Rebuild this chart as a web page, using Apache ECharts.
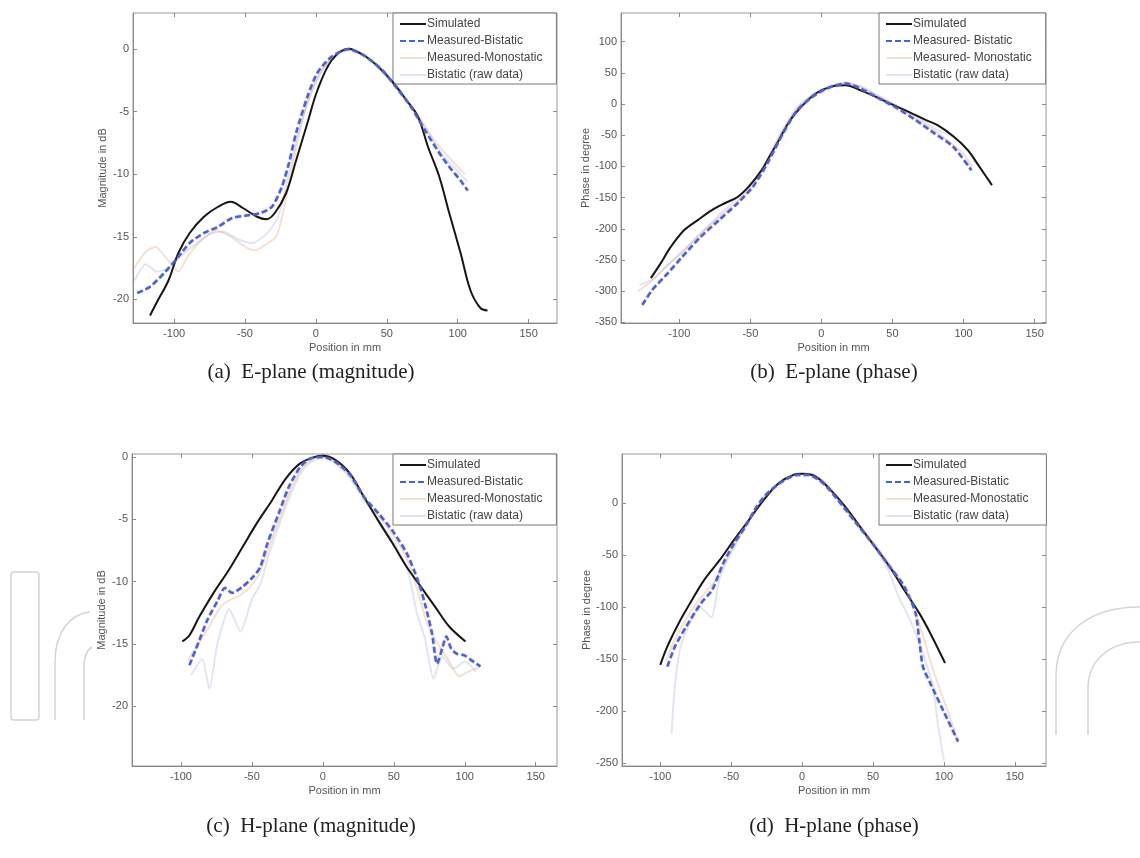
<!DOCTYPE html>
<html><head><meta charset="utf-8">
<script src="https://cdn.jsdelivr.net/npm/echarts@6/dist/echarts.min.js"></script>
<style>html,body{margin:0;padding:0;background:#fff}#c{width:1140px;height:858px}</style>
</head><body><div id="c"></div>
<script>
// ---------- tick labels ----------
var xTicks = [-100, -50, 0, 50, 100, 150];
var aYTicks = [-20, -15, -10, -5, 0];
var bYTicks = [-350, -300, -250, -200, -150, -100, -50, 0, 50, 100];
var cYTicks = [-20, -15, -10, -5, 0];
var dYTicks = [-250, -200, -150, -100, -50, 0];

// ---------- captions / names ----------
var captions = ['(a)  E-plane (magnitude)', '(b)  E-plane (phase)', '(c)  H-plane (magnitude)', '(d)  H-plane (phase)'];
var namesA = ['Simulated', 'Measured-Bistatic', 'Measured-Monostatic', 'Bistatic (raw data)'];
var namesB = ['Simulated', 'Measured- Bistatic', 'Measured- Monostatic', 'Bistatic (raw data)'];

// ---------- (a) E-plane magnitude [mm, dB] ----------
var aSimulated = [[-117,-21.3],[-112,-20.2],[-104,-18.5],[-97,-16.3],[-89,-14.7],[-79,-13.4],[-69,-12.6],[-60,-12.2],[-51.5,-12.7],[-41.5,-13.4],[-35,-13.6],[-29,-13.1],[-21,-11.5],[-14,-8.9],[-6,-5.9],[1,-3.3],[11,-0.9],[23,0.05],[34,-0.5],[44,-1.4],[54,-2.6],[64,-4.1],[72,-5.4],[79,-7.8],[87,-10.2],[94,-13.1],[102,-16.3],[109,-19.3],[116,-20.7],[121,-20.9]];
var aBistatic = [[-126,-19.5],[-117,-19.0],[-107,-17.9],[-97,-16.6],[-89,-15.5],[-79,-14.7],[-69,-14.2],[-59,-13.5],[-49,-13.3],[-39,-13.1],[-31,-12.6],[-24,-11.0],[-19,-9.1],[-14,-6.7],[-6,-3.8],[1,-1.9],[11,-0.6],[23,0],[34,-0.5],[47,-1.7],[57,-3.1],[67,-4.6],[77,-6.5],[87,-8.3],[94,-9.4],[102,-10.5],[107,-11.3]];
var aMonostatic = [[-128,-17.5],[-120,-16.2],[-113,-15.8],[-105,-16.8],[-97,-17.8],[-90,-16.5],[-80,-15.2],[-70,-14.5],[-60,-15.0],[-50,-15.8],[-43,-16.1],[-35,-15.6],[-28,-15.0],[-22,-12.5],[-15,-8.5],[-8,-5],[0,-2.5],[10,-0.8],[22,0],[35,-0.6],[45,-1.5],[55,-2.8],[65,-4.2],[75,-5.8],[85,-7.5],[95,-8.8],[105,-10]];
var aRaw = [[-128,-18.5],[-120,-17.2],[-112,-17.8],[-104,-17.5],[-95,-16.5],[-85,-15.6],[-75,-14.8],[-65,-14.6],[-55,-15.2],[-45,-15.5],[-35,-14.8],[-27,-13.5],[-20,-10.5],[-13,-7],[-5,-4],[3,-2],[12,-0.6],[22,0],[33,-0.4],[45,-1.6],[57,-3.1],[68,-4.8],[78,-6.5],[88,-8.3],[98,-9.5],[107,-10.6]];

// ---------- (b) E-plane phase [mm, degree] ----------
var bSimulated = [[-120,-279],[-113,-255],[-106,-229],[-96.5,-202],[-87,-186],[-77,-170],[-68,-159],[-59,-149],[-51,-132],[-42,-106],[-38,-90],[-30,-58],[-22,-26],[-14,-4],[-4,17],[7,28],[17,30],[27.5,22],[38,12],[48,1],[61,-12],[74,-26],[82,-34],[93,-52],[103,-74],[111,-100],[120,-130]];
var bBistatic = [[-126,-322],[-119,-298],[-108,-271],[-98,-245],[-85,-213],[-72,-186],[-59,-159],[-48,-132],[-38,-95],[-27,-47],[-17,-10],[-6,12],[4,25],[17,33],[27.5,25],[40.5,9],[53.5,-7],[66.5,-26],[79.5,-47],[92.5,-68],[105.5,-106]];
var bMonostatic = [[-129,-300],[-120,-285],[-110,-262],[-98,-238],[-85,-208],[-72,-182],[-60,-158],[-48,-128],[-38,-92],[-27,-45],[-17,-8],[-6,14],[5,27],[17,34],[28,27],[40,12],[53,-4],[66,-22],[79,-42],[92,-64],[100,-80],[106,-100]];
var bRaw = [[-128,-290],[-118,-280],[-108,-258],[-96,-232],[-84,-205],[-72,-178],[-60,-152],[-48,-125],[-38,-88],[-27,-40],[-17,-5],[-6,16],[5,28],[17,34],[28,28],[40,14],[53,-2],[66,-18],[79,-38],[90,-50],[98,-60],[104,-78],[108,-95]];

// ---------- (c) H-plane magnitude [mm, dB] ----------
var cSimulated = [[-99,-14.8],[-94,-14.3],[-87,-12.8],[-77,-10.9],[-66.5,-9.1],[-56.5,-7.2],[-46.5,-5.3],[-36,-3.5],[-26,-1.7],[-16,-0.5],[-6,0],[0,0.1],[9,-0.24],[19,-1.3],[29,-3.2],[39,-5.1],[49,-6.9],[59,-8.8],[69,-10.4],[79,-12.0],[89,-13.6],[100.5,-14.8]];
var cBistatic = [[-94,-16.7],[-87,-14.7],[-81.5,-13.1],[-74,-11.5],[-69,-10.5],[-64,-10.9],[-56.5,-10.4],[-49,-9.6],[-44,-8.8],[-39,-6.9],[-31,-4.5],[-24,-2.4],[-16,-0.8],[-8.6,-0.1],[0,0],[9,-0.4],[19,-1.4],[29,-3.2],[39,-4.5],[49,-5.9],[59,-7.7],[67,-9.9],[72,-11.8],[77,-14.2],[80.5,-16.6],[84.5,-15.2],[87,-14.4],[90.5,-15.4],[94.5,-15.8],[99.5,-15.9],[104.5,-16.3],[111,-16.8]];
var cMonostatic = [[-95,-16.3],[-88,-15.0],[-80,-13.6],[-72,-12.0],[-66,-11.5],[-60,-11.2],[-52,-10.5],[-45,-9.4],[-38,-7.2],[-30,-4.8],[-22,-2.4],[-14,-0.8],[-6,-0.1],[2,0],[10,-0.5],[20,-1.6],[30,-3.4],[40,-4.8],[50,-6.3],[60,-8.4],[67,-10.8],[73,-13.2],[80,-14.8],[88,-16.2],[96,-17.6],[103,-17.2],[110,-16.9]];
var cRaw = [[-93,-17.5],[-85,-16.2],[-80,-18.6],[-74,-14.8],[-66,-12.2],[-58,-14.0],[-50,-11.4],[-44,-10.2],[-38,-7.8],[-30,-5.2],[-22,-2.8],[-14,-1.0],[-6,-0.2],[2,0],[10,-0.6],[20,-1.8],[30,-3.6],[40,-5.2],[50,-6.8],[60,-9.2],[66,-12.4],[72,-14.6],[78,-17.8],[84,-16.0],[92,-17.0],[100,-16.4],[108,-17.2]];

// ---------- (d) H-plane phase [mm, degree] ----------
var dSimulated = [[-100,-155.8],[-95,-138],[-87,-115.7],[-79,-96.5],[-69,-74],[-58,-54.8],[-48,-35.6],[-37.4,-16.3],[-27,2.9],[-16.5,18.9],[-6,26.9],[0.4,27.9],[9.6,25.3],[20,12.5],[30.4,-3.5],[40.8,-22.8],[51.3,-42],[61.7,-61.3],[72,-83.7],[82.6,-106],[90.4,-125.3],[100.8,-154]];
var dBistatic = [[-95,-157.4],[-89.6,-138],[-81.8,-119],[-71.3,-96.5],[-63.4,-83.7],[-55.6,-58],[-47.9,-38.8],[-40,-22.8],[-32,-3.5],[-24.4,9.3],[-14,20.5],[-3.5,26.9],[4.3,26.9],[14.8,18.9],[25.2,2.9],[38.2,-19.5],[51.3,-42],[61.7,-61.3],[72.1,-80.5],[80,-106],[82.6,-131.7],[85.2,-157.4],[90.4,-173.4],[98.2,-195.9],[110,-229.5]];
var dMonostatic = [[-96,-152],[-90,-132],[-82,-112],[-72,-92],[-62,-76],[-54,-56],[-46,-36],[-38,-18],[-30,-2],[-22,12],[-12,22],[-2,28],[6,28],[16,20],[26,4],[38,-18],[50,-38],[60,-56],[70,-76],[78,-98],[84,-122],[90,-150],[96,-175],[104,-205],[110,-230]];
var dRaw = [[-92,-222],[-90,-180],[-86,-140],[-80,-118],[-72,-100],[-64,-110],[-58,-72],[-50,-48],[-42,-28],[-34,-8],[-24,10],[-14,22],[-4,28],[6,27],[16,19],[26,2],[38,-20],[50,-40],[60,-62],[68,-90],[76,-112],[84,-140],[92,-175],[96,-215],[100,-248]];

// ---------- layout ----------
var grids = [
  {left:133, top:13, width:424, height:310},
  {left:621, top:13, width:425, height:310},
  {left:132, top:454, width:425, height:312},
  {left:622, top:454, width:424, height:312}
];
var xRanges = [[-129,170],[-141,158],[-134.5,165],[-127,172]];
var yRanges = [[-21.9,2.9],[-351,146],[-24.8,0.25],[-253,47]];
var yTickSets = [aYTicks, bYTicks, cYTicks, dYTicks];
var yNames = ['Magnitude in dB','Phase in degree','Magnitude in dB','Phase in degree'];
var panelData = [
  [aSimulated, aBistatic, aMonostatic, aRaw],
  [bSimulated, bBistatic, bMonostatic, bRaw],
  [cSimulated, cBistatic, cMonostatic, cRaw],
  [dSimulated, dBistatic, dMonostatic, dRaw]
];
var panelNames = [namesA, namesB, namesA, namesA];
var legendRightPad = [14, 14, 14, 18];
var capPos = [[311,372],[834,372],[311,826],[834,826]];

var axisFont = {fontFamily:'Liberation Sans, Arial, sans-serif', fontSize:11, color:'#555'};
var tickLine = {color:'#8a8a8a', width:1};
var xAxes = [], yAxes = [], series = [], legends = [];
for (var i = 0; i < 4; i++) {
  xAxes.push({
    gridIndex:i, type:'value', min:xRanges[i][0], max:xRanges[i][1],
    name:'Position in mm', nameLocation:'middle', nameGap:19,
    nameTextStyle:axisFont,
    axisLine:{show:true, onZero:false, lineStyle:tickLine},
    axisTick:{show:true, inside:true, length:4, customValues:xTicks, lineStyle:tickLine},
    axisLabel:Object.assign({customValues:xTicks, margin:5}, axisFont),
    splitLine:{show:false}
  });
  yAxes.push({
    gridIndex:i, type:'value', min:yRanges[i][0], max:yRanges[i][1],
    name:yNames[i], nameLocation:'middle', nameGap:(i%2===0?25:28),
    nameTextStyle:axisFont,
    axisLine:{show:true, onZero:false, lineStyle:tickLine},
    axisTick:{show:true, inside:true, length:4, customValues:yTickSets[i], lineStyle:tickLine},
    axisLabel:Object.assign({customValues:yTickSets[i], margin:4}, axisFont),
    splitLine:{show:false}
  });
}
// mirrored tick marks on the top and right of each box
for (var k = 0; k < 4; k++) {
  xAxes.push({
    gridIndex:k, type:'value', position:'top', min:xRanges[k][0], max:xRanges[k][1],
    axisLine:{show:false, onZero:false}, axisLabel:{show:false, customValues:xTicks},
    axisTick:{show:true, inside:true, length:4, customValues:xTicks, lineStyle:tickLine},
    splitLine:{show:false}
  });
  yAxes.push({
    gridIndex:k, type:'value', position:'right', min:yRanges[k][0], max:yRanges[k][1],
    axisLine:{show:false, onZero:false}, axisLabel:{show:false, customValues:yTickSets[k]},
    axisTick:{show:true, inside:true, length:4, customValues:yTickSets[k], lineStyle:tickLine},
    splitLine:{show:false}
  });
}
for (var i = 0; i < 4; i++) {
  var nm = panelNames[i], pd = panelData[i];
  series.push({name:nm[2], type:'line', xAxisIndex:i, yAxisIndex:i, data:pd[2], symbol:'none', smooth:0.2,
    lineStyle:{color:'rgba(236,196,168,0.5)', width:2}, itemStyle:{color:'rgba(236,196,168,0.5)'}, z:2});
  series.push({name:nm[3], type:'line', xAxisIndex:i, yAxisIndex:i, data:pd[3], symbol:'none', smooth:0.2,
    lineStyle:{color:'rgba(175,188,222,0.38)', width:2}, itemStyle:{color:'rgba(175,188,222,0.38)'}, z:2});
  series.push({name:nm[0], type:'line', xAxisIndex:i, yAxisIndex:i, data:pd[0], symbol:'none', smooth:0.35,
    lineStyle:{color:'#161616', width:2}, itemStyle:{color:'#161616'}, z:4});
  series.push({name:nm[1], type:'line', xAxisIndex:i, yAxisIndex:i, data:pd[1], symbol:'none', smooth:0.25,
    lineStyle:{color:'#3f66d6', width:2.5, type:[6,3], shadowColor:'rgba(240,110,110,0.55)', shadowBlur:2},
    itemStyle:{color:'#3f66d6'}, z:5});
  var g = grids[i];
  legends.push({
    orient:'vertical', left:(i%2===0? 393 : g.left+g.width-167), top:g.top,
    data:nm, itemWidth:26, itemHeight:12, itemGap:5, padding:[5,legendRightPad[i],3,6],
    borderColor:'#777', borderWidth:1, backgroundColor:'#fff',
    selectedMode:false,
    itemStyle:{opacity:0},
    textStyle:{fontFamily:'Liberation Sans, Arial, sans-serif', fontSize:12, color:'#444', padding:[0,0,0,-4]}
  });
}
var gridOpts = grids.map(function(g){ return Object.assign({show:true, borderColor:'#9a9a9a', borderWidth:1, backgroundColor:'transparent', containLabel:false}, g); });

// faint publisher watermark outlines in the page background
var wmStyle = {stroke:'#d4d4d4', lineWidth:1.5, fill:null};
function wmLine(x1, y1, x2, y2) { return {type:'line', shape:{x1:x1, y1:y1, x2:x2, y2:y2}, style:wmStyle, z:-10}; }
function wmCurve(x1, y1, c1x, c1y, c2x, c2y, x2, y2) {
  return {type:'bezierCurve', shape:{x1:x1, y1:y1, cpx1:c1x, cpy1:c1y, cpx2:c2x, cpy2:c2y, x2:x2, y2:y2}, style:wmStyle, z:-10};
}
var watermark = [
  {type:'rect', shape:{x:11, y:572, width:28, height:148, r:3}, style:wmStyle, z:-10},
  wmLine(55, 720, 55, 662), wmCurve(55, 662, 55, 632, 70, 614, 90, 612),
  wmLine(84, 720, 84, 668), wmCurve(84, 668, 84, 656, 87, 650, 92, 647),
  wmLine(1056, 735, 1056, 676), wmCurve(1056, 676, 1056, 632, 1090, 607, 1140, 607),
  wmLine(1088, 735, 1088, 688), wmCurve(1088, 688, 1088, 660, 1110, 642, 1140, 642)
];

var chart = echarts.init(document.getElementById('c'), null, {renderer:'canvas'});
chart.setOption({
  backgroundColor:'#fff',
  animation:false,
  grid:gridOpts,
  xAxis:xAxes,
  yAxis:yAxes,
  legend:legends,
  series:series,
  graphic:watermark.concat(captions.map(function(t, i){
    return {type:'text', x:capPos[i][0], y:capPos[i][1], style:{
      text:t, textAlign:'center', textVerticalAlign:'middle',
      font:'21px "Liberation Serif", "DejaVu Serif", serif', fill:'#222'}};
  }))
});
</script></body></html>
